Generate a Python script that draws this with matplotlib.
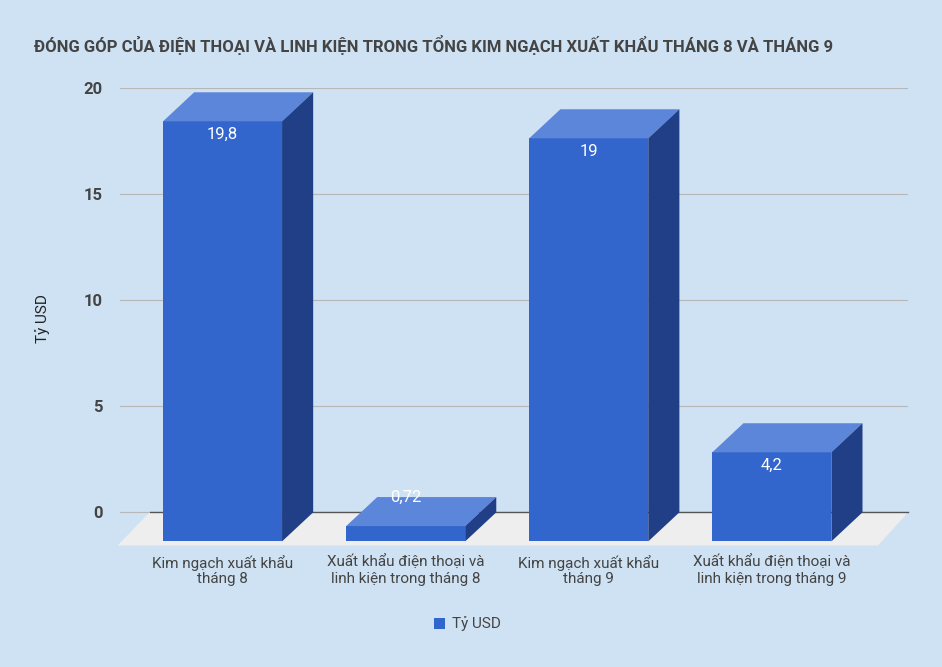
import matplotlib
matplotlib.use('Agg')
from matplotlib import pyplot as plt
from matplotlib.patches import Polygon, Rectangle

plt.rcParams['font.family'] = ['Roboto', 'DejaVu Sans']

categories = ["Kim ngạch xuất khẩu\ntháng 8", "Xuất khẩu điện thoại và\nlinh kiện trong tháng 8",
              "Kim ngạch xuất khẩu\ntháng 9", "Xuất khẩu điện thoại và\nlinh kiện trong tháng 9"]
values = [19.8, 0.72, 19.0, 4.2]
value_labels = ["19,8", "0,72", "19", "4,2"]
yticks = [0, 5, 10, 15, 20]

bg = '#cfe2f3'
front_c, top_c, side_c = '#3366cc', '#5c86d9', '#213f86'
dx, dy, w = 0.17, 1.37, 0.65

fig = plt.figure(figsize=(9.42, 6.67), dpi=100, facecolor=bg)
ax = fig.add_axes([0.127, 0.181, 0.837, 0.687])
ax.set_facecolor(bg)
ax.set_xlim(-0.732, 3.574)
ax.set_ylim(-1.6, 20)

for t in yticks:
    ax.axhline(t, color='#b7b7b7', lw=0.8, zorder=0)

floor = Polygon([(-0.568, 0), (3.574, 0), (3.41, -1.56), (-0.743, -1.56)],
                closed=True, fc='#eeeeee', ec='none', zorder=1, clip_on=False)
ax.add_patch(floor)
ax.plot([-0.568, 3.574], [0, 0], color='#555555', lw=1, zorder=1.5, clip_on=False)

for i, v in enumerate(values):
    xl = i - dx - w / 2
    xr = xl + w
    ax.add_patch(Rectangle((xl, -dy), w, v, fc=front_c, ec='none', zorder=3, clip_on=False))
    ax.add_patch(Polygon([(xl, v - dy), (xl + dx, v), (xr + dx, v), (xr, v - dy)],
                         fc=top_c, ec='none', zorder=3, clip_on=False))
    ax.add_patch(Polygon([(xr, -dy), (xr + dx, 0), (xr + dx, v), (xr, v - dy)],
                         fc=side_c, ec='none', zorder=3, clip_on=False))
    ly = v - dy - 0.6 if v > 2 else 0.7
    ax.text(i - dx, ly, value_labels[i], color='white', fontsize=12, ha='center', va='center', zorder=4)
    ax.text(i - dx, -2.0, categories[i], color='#444444', fontsize=11, ha='center', va='top',
            linespacing=1.15)

ax.set_xticks([])
ax.set_yticks(yticks)
ax.set_yticklabels([str(t) for t in yticks], fontsize=12, color='#444444', fontweight='bold')
ax.tick_params(axis='y', length=0, pad=12)
for s in ax.spines.values():
    s.set_visible(False)

fig.text(0.045, 0.522, "Tỷ USD", rotation=90, fontsize=11, color='#222222', ha='center', va='center')
fig.text(0.036, 0.933, "ĐÓNG GÓP CỦA ĐIỆN THOẠI VÀ LINH KIỆN TRONG TỔNG KIM NGẠCH XUẤT KHẨU THÁNG 8 VÀ THÁNG 9",
         fontsize=12, fontweight='bold', color='#444444', ha='left', va='center')

fig.patches.append(Rectangle((0.461, 0.057), 0.011, 0.016, transform=fig.transFigure, fc=front_c, ec='none'))
fig.text(0.480, 0.065, "Tỷ USD", fontsize=11, color='#444444', ha='left', va='center')

plt.savefig("out.png", dpi=100, facecolor=bg)
